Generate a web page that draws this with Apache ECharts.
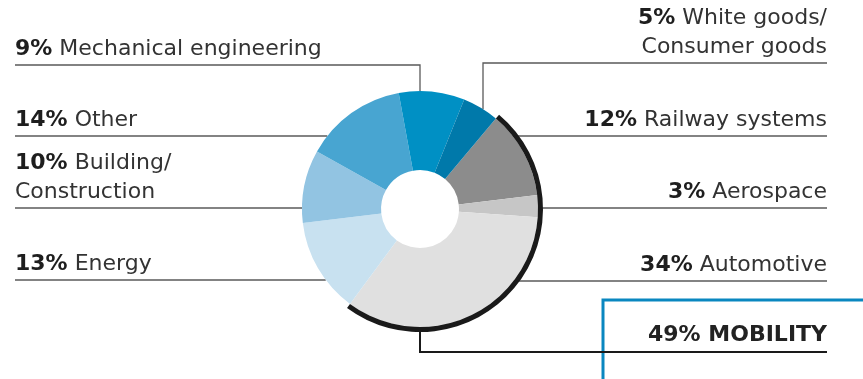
<!DOCTYPE html>
<html>
<head>
<meta charset="utf-8">
<script src="https://cdn.jsdelivr.net/npm/echarts@6/dist/echarts.min.js"></script>
<style>
  html, body { margin: 0; padding: 0; background: #fff; }
  #chart { width: 863px; height: 379px; }
</style>
</head>
<body>
<div id="chart"></div>
<script>
// sector shares (%), clockwise starting at the railway slice
var sectors = ['Railway systems', 'Aerospace', 'Automotive', 'Energy', 'Building/\nConstruction', 'Other', 'Mechanical engineering', 'White goods/\nConsumer goods'];
var shares = [12, 3, 34, 13, 10, 14, 9, 5];
// mobility group = railway + aerospace + automotive
var groups = ['MOBILITY', ''];
var groupShares = [49, 51];

var sectorColors = ['#8c8c8c', '#c6c6c6', '#e0e0e0', '#c8e1f0', '#92c4e2', '#48a5d1', '#0090c4', '#0079aa'];

// pie geometry
var CX = 420, CY = 209, R = 118, R_IN = 39, RING = [118, 123];
var TEXT_L = 15, TEXT_R = 827;
// where each label's underline sits; drop = x of a vertical leader down to the pie
var labelPlaces = [
  { side: 'right', lineY: 136 },
  { side: 'right', lineY: 208 },
  { side: 'right', lineY: 281 },
  { side: 'left', lineY: 280 },
  { side: 'left', lineY: 208 },
  { side: 'left', lineY: 136 },
  { side: 'left', lineY: 65, drop: 420 },
  { side: 'right', lineY: 63, drop: 483 }
];

var chart = echarts.init(document.getElementById('chart'));

var sectorData = sectors.map(function (n, i) {
  return { name: n, value: shares[i], itemStyle: { color: sectorColors[i] } };
});
var groupData = groups.map(function (n, i) {
  if (i === 0) {
    return { name: n, value: groupShares[i], itemStyle: { color: '#1a1a1a' } };
  }
  return {
    name: n, value: groupShares[i],
    itemStyle: { color: 'transparent' },
    label: { show: false }, labelLine: { show: false }
  };
});

option = {
  animation: false,
  series: [{
    type: 'pie',
    center: [CX, CY],
    radius: [R_IN, R],
    startAngle: 50,
    clockwise: true,
    avoidLabelOverlap: false,
    emphasis: { disabled: true },
    silent: true,
    data: sectorData,
    label: {
      show: true,
      position: 'outside',
      formatter: function (p) {
        var lines = p.name.split('\n');
        var s = '{p|' + p.value + '%}{n| ' + lines[0] + '}';
        for (var i = 1; i < lines.length; i++) {
          s += '\n{n|' + lines[i] + '}';
        }
        return s;
      },
      rich: {
        p: { fontFamily: 'DejaVu Sans', fontWeight: 'bold', fontSize: 22, color: '#1e1e1e', lineHeight: 29 },
        n: { fontFamily: 'DejaVu Sans', fontSize: 22, color: '#333', lineHeight: 29 }
      }
    },
    labelLine: {
      show: true,
      smooth: false,
      lineStyle: { color: '#5a5a5a', width: 1.3 }
    },
    labelLayout: function (params) {
      var l = labelPlaces[params.dataIndex];
      var left = l.side === 'left';
      var y = l.lineY;
      var end = left ? TEXT_L : TEXT_R;
      var pts;
      if (l.drop != null) {
        var h = Math.sqrt(R * R - (l.drop - CX) * (l.drop - CX));
        pts = [[l.drop, CY - h], [l.drop, y], [end, y]];
      } else {
        var w = Math.sqrt(R * R - (y - CY) * (y - CY));
        var xe = left ? CX - w : CX + w;
        pts = [[xe, y], [xe, y], [end, y]];
      }
      return {
        x: end, y: y - 1,
        align: left ? 'left' : 'right',
        verticalAlign: 'bottom',
        labelLinePoints: pts
      };
    }
  }, {
    type: 'pie',
    center: [CX, CY],
    radius: RING,
    startAngle: 50,
    clockwise: true,
    avoidLabelOverlap: false,
    emphasis: { disabled: true },
    silent: true,
    data: groupData,
    label: {
      show: true,
      position: 'outside',
      formatter: '{c}% {b}',
      fontFamily: 'DejaVu Sans',
      fontSize: 22,
      fontWeight: 'bold',
      color: '#222',
      lineHeight: 29
    },
    labelLine: {
      show: true,
      smooth: false,
      lineStyle: { color: '#1a1a1a', width: 2 }
    },
    labelLayout: function (params) {
      var y = 352;
      return {
        x: TEXT_R, y: y - 2,
        align: 'right',
        verticalAlign: 'bottom',
        labelLinePoints: [[CX, CY + RING[1]], [CX, y], [TEXT_R, y]]
      };
    }
  }],
  graphic: [{
    type: 'rect',
    silent: true,
    shape: { x: 603, y: 300, width: 300, height: 100 },
    style: { fill: 'none', stroke: '#0a87c0', lineWidth: 3 }
  }]
};
chart.setOption(option);
</script>
</body>
</html>
